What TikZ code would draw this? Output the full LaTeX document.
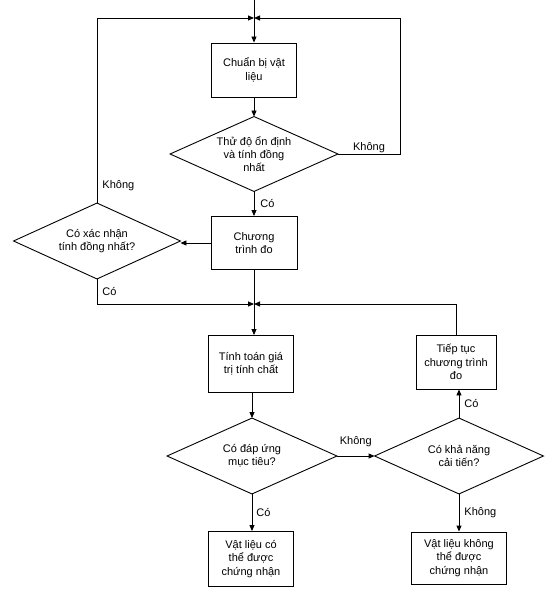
\documentclass[tikz,border=0pt]{standalone}
\usepackage{fontspec}
\setmainfont{Liberation Sans}
\usetikzlibrary{arrows.meta}
\begin{document}
\begin{tikzpicture}[x=1pt,y=-1pt,
  every node/.style={font=\fontsize{11}{13.3}\selectfont},
  box/.style={draw, line width=0.9pt, align=center, inner sep=0pt},
  dec/.style={align=center, inner sep=0pt},
  lab/.style={inner sep=0pt},
  arr/.style={-{Triangle[length=6pt,width=5pt]}},
  line width=0.9pt]
\useasboundingbox (0,0) rectangle (548,591);

% coordinates
\coordinate (top) at (254,0);
\coordinate (J1) at (254,18);
\coordinate (J2) at (254,304);
\coordinate (R1) at (400,0);

% nodes
\node[box, minimum width=85pt, minimum height=54pt] (b1) at (254,70) {Chuẩn bị vật\\liệu};
\node[dec, minimum width=167pt, minimum height=74pt] (d1) at (254,154) {Thử độ ổn định\\và tính đồng\\nhất};
\node[box, minimum width=86pt, minimum height=53pt] (b2) at (254,243) {Chương\\trình đo};
\node[dec, minimum width=166pt, minimum height=75pt] (d2) at (97,241) {Có xác nhận\\tính đồng nhất?};
\node[box, minimum width=85pt, minimum height=57pt] (b3) at (251,364) {Tính toán giá\\trị tính chất};
\node[box, minimum width=80pt, minimum height=54pt] (b4) at (456,362) {Tiếp tục\\chương trình\\đo};
\node[dec, minimum width=169pt, minimum height=75pt] (d3) at (252,456) {Có đáp ứng\\mục tiêu?};
\node[dec, minimum width=168pt, minimum height=75pt] (d4) at (459,456) {Có khả năng\\cải tiến?};
\node[box, minimum width=85pt, minimum height=55pt] (b5) at (251,559) {Vật liệu có\\thể được\\chứng nhận};
\node[box, minimum width=95pt, minimum height=52pt] (b6) at (459,558) {Vật liệu không\\thể được\\chứng nhận};

\foreach \n in {d1,d2,d3,d4}
  \draw (\n.north) -- (\n.east) -- (\n.south) -- (\n.west) -- cycle;

% connectors
\draw[arr] (top) -- (b1.north);
\draw[arr] (d1.east) -- node[lab,above=1pt]{Không} (d1.east -| R1) |- (J1);
\draw[arr] (d2.north) -- node[lab,pos=0.094,anchor=west,xshift=5pt]{Không} (d2.north |- J1) -- (J1);
\draw[arr] (b1.south) -- (d1.north);
\draw[arr] (d1.south) -- node[lab,right=6pt]{Có} (b2.north);
\draw[arr] (b2.west) -- (b2.west -| d2.east);
\draw (b2.south) -- (J2);
\draw[arr] (d2.south) -- node[lab,right=5pt]{Có} (d2.south |- J2) -- (J2);
\draw[arr] (b4.north) |- (J2);
\draw[arr] (J2) -- (J2 |- b3.north);
\draw[arr] (b3.south -| d3.north) -- (d3.north);
\draw[arr] (d3.east) -- node[lab,above=9pt]{Không} (d4.west);
\draw[arr] (d4.north) -- node[lab,right=5pt]{Có} (d4.north |- b4.south);
\draw[arr] (d3.south) -- node[lab,right=4pt]{Có} (d3.south |- b5.north);
\draw[arr] (d4.south) -- node[lab,right=5pt]{Không} (b6.north);
\end{tikzpicture}
\end{document}
